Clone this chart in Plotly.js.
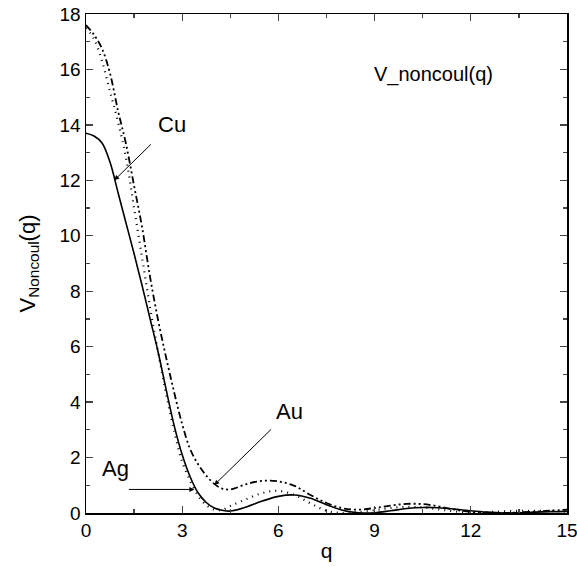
<!DOCTYPE html>
<html>
<head>
<meta charset="utf-8">
<script src="https://cdn.plot.ly/plotly-3.0.1.min.js"></script>
<style>html,body{margin:0;padding:0;background:#fff;}#chart{width:577px;height:567px;}</style>
</head>
<body>
<div id="chart"></div>
<script>
const q = [0,0.25,0.5,0.75,1.0,1.25,1.5,1.75,2.0,2.25,2.5,2.75,3.0,3.25,3.5,3.75,4.0,4.25,4.5,5.0,5.5,6.0,6.5,7.0,7.5,8.0,8.5,9.0,9.5,10,10.5,11,11.5,12,12.5,13,13.5,14,14.5,15];
const cu = [13.7,13.6,13.35,12.65,11.55,10.45,9.35,8.2,7.0,5.8,4.45,3.15,2.1,1.3,0.72,0.38,0.18,0.1,0.07,0.22,0.43,0.6,0.65,0.53,0.3,0.1,0.01,0.01,0.08,0.16,0.2,0.19,0.14,0.08,0.03,0.0,0.01,0.03,0.05,0.06];
const ag = [17.5,17.1,16.3,15.2,14.1,12.8,11.0,9.2,7.4,5.8,4.3,2.95,1.85,1.15,0.62,0.29,0.12,0.12,0.25,0.5,0.72,0.8,0.65,0.35,0.08,0.0,0.03,0.1,0.18,0.22,0.2,0.13,0.06,0.02,0.03,0.06,0.08,0.08,0.07,0.06];
const au = [17.6,17.25,16.75,15.85,14.5,13.3,11.8,10.3,8.5,6.95,5.6,4.35,3.2,2.3,1.75,1.35,1.05,0.88,0.85,1.04,1.16,1.14,0.98,0.65,0.36,0.17,0.12,0.18,0.27,0.33,0.32,0.24,0.12,0.04,0.0,0.0,0.02,0.05,0.09,0.12];
const xTicks = [0,3,6,9,12,15];
const yTicks = [0,2,4,6,8,10,12,14,16,18];

const FONT = 'Liberation Sans, Arial, sans-serif';
const traces = [
  {x:q, y:cu, name:'Cu', mode:'lines', line:{color:'#000', width:1.6, dash:'solid', shape:'spline'}},
  {x:q, y:ag, name:'Ag', mode:'lines', line:{color:'#000', width:2.2, dash:'1px,5px', shape:'spline'}},
  {x:q, y:au, name:'Au', mode:'lines', line:{color:'#000', width:1.8, dash:'7px,3px,2px,3px,2px,3px', shape:'spline'}}
];
const arrowStyle = {showarrow:true, arrowhead:2, arrowsize:1, arrowwidth:1, arrowcolor:'#000', axref:'x', ayref:'y', text:''};
const layout = {
  width:577, height:567,
  margin:{l:86, r:10, t:14, b:54},
  paper_bgcolor:'#fff', plot_bgcolor:'#fff',
  showlegend:false,
  font:{family:FONT, size:18, color:'#000'},
  xaxis:{range:[0,15], tickvals:xTicks, ticktext:xTicks.map(String), ticks:'inside', ticklen:7, tickwidth:1.3,
    showline:true, linewidth:1.5, linecolor:'#000', mirror:'allticks', showgrid:false, zeroline:false,
    ticklabeloverflow:'allow',
    minor:{tickvals:[1.5,4.5,7.5,10.5,13.5], ticks:'inside', ticklen:4, tickwidth:1.3, showgrid:false},
    tickfont:{family:FONT, size:19}, title:{text:'q', font:{family:FONT, size:21}, standoff:3}},
  yaxis:{range:[0,18], tickvals:yTicks, ticktext:yTicks.map(String), ticks:'inside', ticklen:7, tickwidth:1.3,
    showline:true, linewidth:1.5, linecolor:'#000', mirror:'allticks', showgrid:false, zeroline:false,
    ticklabeloverflow:'allow',
    minor:{tickvals:[1,3,5,7,9,11,13,15,17], ticks:'inside', ticklen:4, tickwidth:1.3, showgrid:false},
    tickfont:{family:FONT, size:19}, title:{text:'V<sub>Noncoul</sub>(q)', font:{family:FONT, size:22}, standoff:18}},
  annotations:[
    {x:10.85, y:15.8, xref:'x', yref:'y', text:'V_noncoul(q)', showarrow:false, font:{family:FONT, size:20}},
    {x:2.67, y:14.0, xref:'x', yref:'y', text:'Cu', showarrow:false, font:{family:FONT, size:22}},
    {x:6.35, y:3.65, xref:'x', yref:'y', text:'Au', showarrow:false, font:{family:FONT, size:22}},
    {x:0.92, y:1.62, xref:'x', yref:'y', text:'Ag', showarrow:false, font:{family:FONT, size:22}},
    Object.assign({x:0.88, y:12.0, ax:2.07, ay:13.35, xref:'x', yref:'y'}, arrowStyle),
    Object.assign({x:4.0, y:1.01, ax:5.82, ay:3.07, xref:'x', yref:'y'}, arrowStyle),
    Object.assign({x:3.38, y:0.85, ax:1.29, ay:0.85, xref:'x', yref:'y'}, arrowStyle)
  ]
};
Plotly.newPlot('chart', traces, layout, {displayModeBar:false, staticPlot:true});
</script>
</body>
</html>
